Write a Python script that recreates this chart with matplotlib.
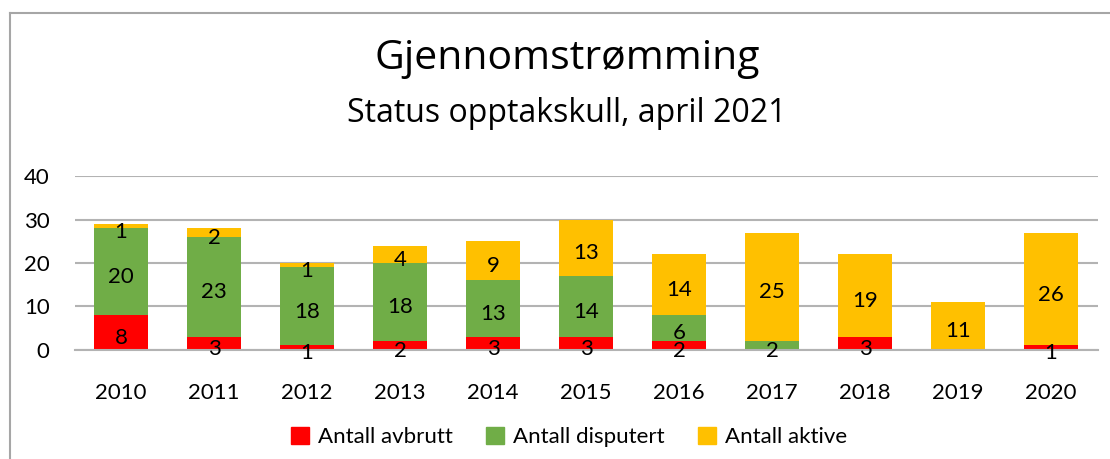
import matplotlib.pyplot as plt
from matplotlib.patches import Patch
from matplotlib.lines import Line2D
import numpy as np

plt.rcParams['font.family'] = ['Lato', 'DejaVu Sans']

years = ['2010', '2011', '2012', '2013', '2014', '2015', '2016', '2017', '2018', '2019', '2020']
avbrutt = [8, 3, 1, 2, 3, 3, 2, 0, 3, 0, 1]
disputert = [20, 23, 18, 18, 13, 14, 6, 2, 0, 0, 0]
aktive = [1, 2, 1, 4, 9, 13, 14, 25, 19, 11, 26]

series = [
    ('Antall avbrutt', avbrutt, '#ff0000'),
    ('Antall disputert', disputert, '#70ad47'),
    ('Antall aktive', aktive, '#ffc000'),
]

W, H = 1110, 459
fig = plt.figure(figsize=(W / 100, H / 100), dpi=100)
ax = fig.add_axes([74.5 / W, 1 - 349.5 / H, 1023 / W, 173 / H])

x = np.arange(len(years))
bottom = np.zeros(len(years))
for name, vals, col in series:
    vals = np.array(vals, dtype=float)
    ax.bar(x, vals, 0.58, bottom=bottom, color=col, zorder=2, label=name)
    for xi, b, v in zip(x, bottom, vals):
        if v > 0:
            ax.annotate(str(int(v)), (xi, b + v / 2), xytext=(0, -4),
                        textcoords='offset points', ha='center', va='center',
                        fontsize=16, color='black', zorder=3)
    bottom += vals

ax.set_xlim(-0.5, len(years) - 0.5)
ax.set_ylim(0, 40)
ax.set_yticks([0, 10, 20, 30, 40])
ax.set_xticks(x)
ax.set_xticklabels(years)
ax.yaxis.grid(True, color='#b3b3b3', linewidth=1.5, zorder=0)
ax.set_axisbelow(True)
for s in ['top', 'right', 'left']:
    ax.spines[s].set_visible(False)
ax.spines['bottom'].set_color('#b3b3b3')
ax.spines['bottom'].set_linewidth(1.5)
ax.tick_params(axis='both', length=0, labelsize=16)
ax.tick_params(axis='y', pad=18)
ax.tick_params(axis='x', pad=24)

fig.text(567 / W, 1 - 69 / H, 'Gjennomstrømming', ha='center', va='baseline',
         fontsize=29.5, family=['Open Sans', 'DejaVu Sans'])
fig.text(567 / W, 1 - 122 / H, 'Status opptakskull, april 2021', ha='center', va='baseline',
         fontsize=23, family=['Open Sans', 'DejaVu Sans'])

handles = [Patch(color=c, label=n) for n, _, c in series]
fig.legend(handles=handles, loc='center', bbox_to_anchor=(569 / W, 1 - 437 / H), ncol=3,
           frameon=False, fontsize=16, handlelength=0.8, handleheight=0.8,
           handletextpad=0.4, columnspacing=1.5)

# chart frame
fig.add_artist(Line2D([10 / W, 1], [1 - 13 / H, 1 - 13 / H], color='#a6a6a6', linewidth=1.5))
fig.add_artist(Line2D([10 / W, 10 / W], [0, 1 - 13 / H], color='#a6a6a6', linewidth=1.5))

fig.savefig('out.png', dpi=100)
